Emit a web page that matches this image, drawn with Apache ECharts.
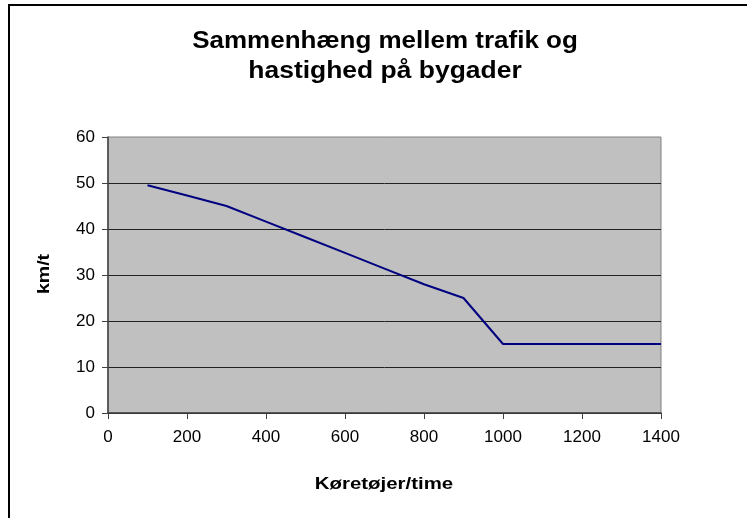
<!DOCTYPE html>
<html>
<head>
<meta charset="utf-8">
<script src="https://cdn.jsdelivr.net/npm/echarts@6/dist/echarts.min.js"></script>
<style>
  html, body { margin: 0; padding: 0; background: #fff; }
  #chart { width: 747px; height: 518px; }
</style>
</head>
<body>
<div id="chart"></div>
<script>
// trafik (køretøjer/time) og hastighed (km/t)
var trafik = [100, 200, 300, 400, 500, 600, 700, 800, 900, 1000, 1100, 1200, 1300, 1400];
var hastighed = [49.5, 47.3, 45, 41.6, 38.2, 34.8, 31.4, 28, 25, 15, 15, 15, 15, 15];
var titleLines = ['Sammenhæng mellem trafik og', 'hastighed på bygader'];
var xName = 'Køretøjer/time';
var yName = 'km/t';

var chart = echarts.init(document.getElementById('chart'));

var FONT = '"Liberation Sans", Arial, sans-serif';

function label(text, x, y, size, sx, rot) {
    return {
        type: 'text',
        x: x,
        y: y,
        scaleX: sx,
        rotation: rot || 0,
        z: 10,
        style: {
            text: text,
            font: 'bold ' + size + 'px ' + FONT,
            fill: '#000',
            textAlign: 'center',
            align: 'center',
            textVerticalAlign: 'middle',
            verticalAlign: 'middle'
        }
    };
}

chart.setOption({
    animation: false,
    backgroundColor: '#fff',
    grid: {
        left: 108,
        right: 86,
        top: 137,
        bottom: 105,
        show: true,
        backgroundColor: '#c0c0c0',
        borderColor: '#808080',
        borderWidth: 1
    },
    xAxis: {
        type: 'value',
        min: 0,
        max: 1400,
        interval: 200,
        axisLine: { show: true, onZero: false, lineStyle: { color: '#404040', width: 1.5 } },
        axisTick: { show: true, length: 6, lineStyle: { color: '#404040' } },
        axisLabel: {
            color: '#000', fontSize: 17, fontFamily: FONT, margin: 16,
            formatter: function (v) { return String(v); }
        },
        splitLine: { show: false }
    },
    yAxis: {
        type: 'value',
        min: 0,
        max: 60,
        interval: 10,
        axisLine: { show: true, lineStyle: { color: '#404040', width: 1.5 } },
        axisTick: { show: true, length: 6, lineStyle: { color: '#404040' } },
        axisLabel: { color: '#000', fontSize: 17, fontFamily: FONT, margin: 13 },
        splitLine: { show: true, showMaxLine: false, lineStyle: { color: '#222', width: 1 } }
    },
    series: [{
        type: 'line',
        data: trafik.map(function (t, i) { return [t, hastighed[i]]; }),
        symbol: 'none',
        lineStyle: { color: '#000080', width: 2 },
        z: 5
    }],
    graphic: [
        {
            type: 'rect',
            shape: { x: 9, y: 5, width: 900, height: 900 },
            style: { fill: 'none', stroke: '#000', lineWidth: 2 },
            silent: true
        },
        label(titleLines[0], 385, 42, 23, 1.13),
        label(titleLines[1], 385, 72, 23, 1.15),
        label(xName, 384, 484, 17, 1.2),
        label(yName, 44, 274, 17, 1.15, Math.PI / 2)
    ]
});
</script>
</body>
</html>
